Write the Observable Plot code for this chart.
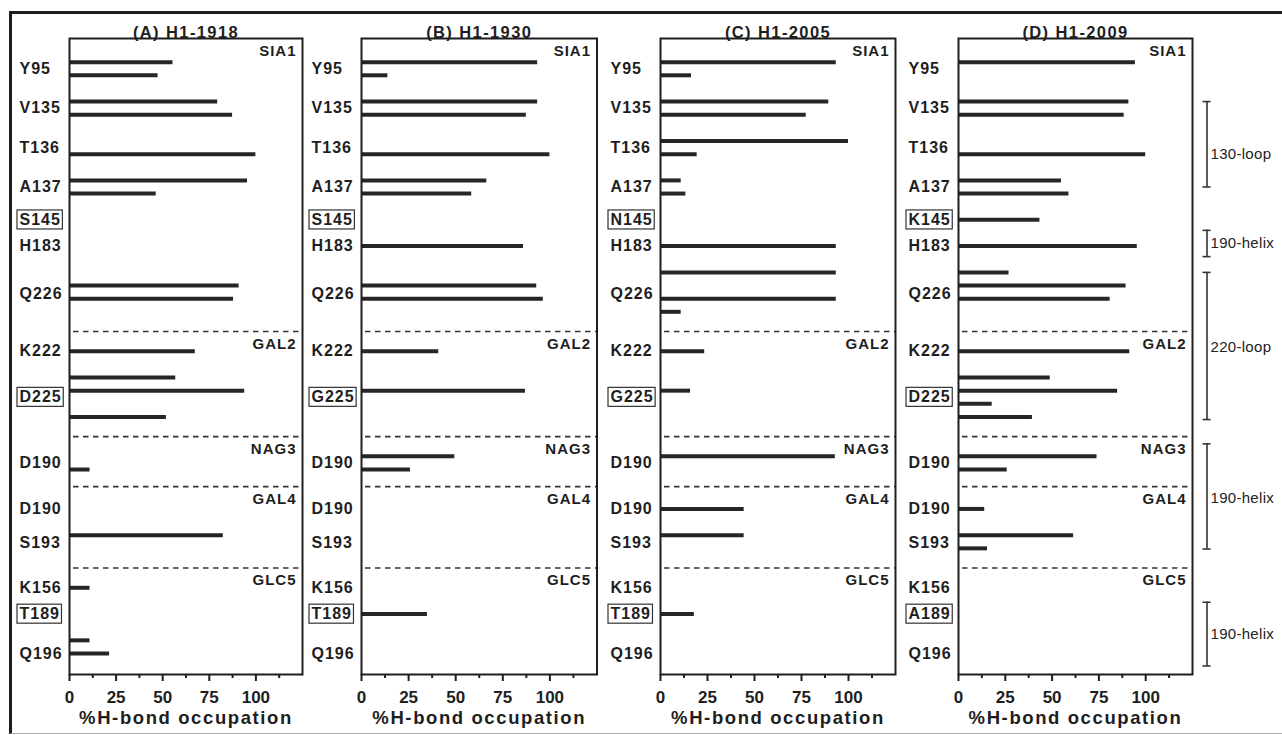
<!DOCTYPE html>
<html><head><meta charset="utf-8">
<script src="https://cdn.jsdelivr.net/npm/d3@7"></script>
<script src="https://cdn.jsdelivr.net/npm/@observablehq/plot@0.6"></script>
<style>
html,body{margin:0;padding:0;background:#fff;}
#chart{position:relative;width:1282px;height:735px;overflow:hidden;background:#fff;}
#border{position:absolute;left:8.5px;top:10.5px;width:1300px;height:723.5px;border-left:3px solid #1e1e1e;border-top:3.5px solid #1e1e1e;border-bottom:1px solid #aaa;box-sizing:border-box;}
.panel{position:absolute;top:0;}
</style></head><body><div id="chart"><div id="border"></div></div>
<script>
// ---------- data ----------
const xDomain = [0, 125];
const yDomain = [0.2, 48.6];           // bar-slot units, top to bottom
const majorTicks = [0, 25, 50, 75, 100];
const minorTicks = [12.5, 37.5, 62.5, 87.5, 112.5];
const xTitle = "%H-bond occupation";

const panelTitles = ["(A) H1-1918", "(B) H1-1930", "(C) H1-2005", "(D) H1-2009"];

const residueSlots = [2.5, 5.5, 8.5, 11.5, 14, 16, 19.6, 24, 27.5, 32.5, 36, 38.6, 42, 44, 47];
const residuesA = ["Y95","V135","T136","A137","S145","H183","Q226","K222","D225","D190","D190","S193","K156","T189","Q196"];
const residuesB = ["Y95","V135","T136","A137","S145","H183","Q226","K222","G225","D190","D190","S193","K156","T189","Q196"];
const residuesC = ["Y95","V135","T136","A137","N145","H183","Q226","K222","G225","D190","D190","S193","K156","T189","Q196"];
const residuesD = ["Y95","V135","T136","A137","K145","H183","Q226","K222","D225","D190","D190","S193","K156","A189","Q196"];
const boxedResidues = [4, 8, 13];

const groupNames = ["SIA1", "GAL2", "NAG3", "GAL4", "GLC5"];
const groupStarts = [0.2, 22.5, 30.5, 34.3, 40.5];

const barSlotsA  = [2, 3, 5, 6, 9, 11, 12, 19, 20, 24, 26, 27, 29, 33, 38, 42, 46, 47];
const barValuesA = [55.5, 47.5, 79.5, 87.5, 100, 95.5, 46.5, 91, 88, 67.5, 57, 94, 52, 11, 82.5, 11, 11, 21.5];

const barSlotsB  = [2, 3, 5, 6, 9, 11, 12, 16, 19, 20, 24, 27, 32, 33, 44];
const barValuesB = [93.5, 14, 93.5, 87.5, 100, 66.5, 58.5, 86, 93, 96.5, 41, 87, 49.5, 26, 35];

const barSlotsC  = [2, 3, 5, 6, 8, 9, 11, 12, 16, 18, 20, 21, 24, 27, 32, 36, 38, 44];
const barValuesC = [93.5, 16.5, 89.5, 77.5, 100, 19.5, 11, 13.5, 93.5, 93.5, 93.5, 11, 23.5, 16, 93, 44.5, 44.5, 18];

const barSlotsD  = [2, 5, 6, 9, 11, 12, 14, 16, 18, 19, 20, 24, 26, 27, 28, 29, 32, 33, 36, 38, 39];
const barValuesD = [94.5, 91, 88.5, 100, 55, 59, 43.5, 95.5, 27, 89.5, 81, 91.5, 49, 85, 18, 39.5, 74, 26, 14, 61.5, 15.5];

const regionNames = ["130-loop", "190-helix", "220-loop", "190-helix", "190-helix"];
const regionStart = [5.0, 14.8, 18.0, 31.05, 43.1];
const regionEnd   = [11.5, 16.8, 29.2, 39.05, 47.95];
const regionLabelSlot = [9.0, 15.8, 23.7, 35.2, 45.5];

// ---------- layout ----------
const frameLeft  = [69, 361, 660, 958.3];
const frameWidth = [233, 235.5, 235, 234];
const marginLeft = 60, marginTop = 38, marginBottom = 61, H = 735;
const ink = "#1e1e1e";

const panels = [
  {res: residuesA, slots: barSlotsA, vals: barValuesA},
  {res: residuesB, slots: barSlotsB, vals: barValuesB},
  {res: residuesC, slots: barSlotsC, vals: barValuesC},
  {res: residuesD, slots: barSlotsD, vals: barValuesD}
];

const chart = document.getElementById("chart");
const groups = groupNames.map((name, j) => ({name, start: groupStarts[j]}));
const regions = regionNames.map((name, j) => ({name, start: regionStart[j], end: regionEnd[j], label: regionLabelSlot[j]}));
const regionSet = new Set(regionNames);

panels.forEach((p, i) => {
  const bars = p.slots.map((s, j) => ({slot: s, value: p.vals[j]}));
  const labels = p.res.map((r, j) => ({label: r, slot: residueSlots[j]}));
  const isLast = i === 3;
  const marginRight = isLast ? 88 : 2;
  const marks = [
    Plot.ruleY(groups.slice(1), {y: "start", x1: () => xDomain[0], x2: () => xDomain[1], stroke: "#333", strokeWidth: 1.6, strokeDasharray: "5.5,4.5", insetLeft: 4}),
    Plot.ruleY(bars, {y: "slot", x1: () => 0, x2: "value", stroke: "#262626", strokeWidth: 4}),
    Plot.frame({stroke: ink, strokeWidth: 2}),
    Plot.text(groups, {y: "start", x: () => xDomain[1], text: "name", textAnchor: "end", dx: -6, dy: 12.5, fontSize: 15, fill: ink}),
    Plot.text(labels, {y: "slot", x: () => xDomain[0], text: "label", textAnchor: "start", dx: -50, fontSize: 16, fill: ink}),
    Plot.axisX({ticks: majorTicks, tickSize: 7, tickPadding: 9, fontSize: 17, strokeWidth: 2, stroke: ink, fill: ink, label: null}),
    Plot.axisX({ticks: minorTicks, tickSize: 4, tickFormat: () => "", strokeWidth: 2, stroke: ink, label: null}),
    Plot.text([panelTitles[i]], {text: d => d, frameAnchor: "top", dy: -12, fontSize: 16.5, fill: ink}),
    Plot.text([xTitle], {text: d => d, frameAnchor: "bottom", dy: 49, fontSize: 18.5, fill: ink})
  ];
  if (isLast) {
    marks.push(
      Plot.ruleX(regions, {x: () => xDomain[1], y1: "start", y2: "end", dx: 14.5, stroke: "#333", strokeWidth: 1.6}),
      Plot.ruleY(regions, {y: "start", x1: () => xDomain[1], x2: () => xDomain[1], dx: 14.5, insetLeft: -4, insetRight: -4, stroke: "#333", strokeWidth: 1.6}),
      Plot.ruleY(regions, {y: "end", x1: () => xDomain[1], x2: () => xDomain[1], dx: 14.5, insetLeft: -4, insetRight: -4, stroke: "#333", strokeWidth: 1.6}),
      Plot.text(regions, {y: "label", x: () => xDomain[1], text: "name", textAnchor: "start", dx: 18, fontSize: 15, fontWeight: "normal", fill: "#222"})
    );
  }
  const svg = Plot.plot({
    width: marginLeft + frameWidth[i] + marginRight,
    height: H,
    marginLeft, marginRight, marginTop, marginBottom,
    x: {domain: xDomain, axis: null},
    y: {domain: yDomain, reverse: true, axis: null},
    style: {background: "none", maxWidth: "none", overflow: "visible", fontFamily: "'Liberation Sans', Arial, sans-serif", fontWeight: "bold", letterSpacing: "1px", color: ink},
    marks
  });
  svg.classList.add("panel");
  svg.style.left = (frameLeft[i] - marginLeft) + "px";
  chart.appendChild(svg);

  const boxed = new Set(boxedResidues.map(k => p.res[k]));
  d3.select(svg).selectAll("text").each(function() {
    const t = this.textContent;
    if (t === xTitle) this.style.letterSpacing = "1.6px";
    else if (t === panelTitles[i]) this.style.letterSpacing = "1.4px";
    else if (regionSet.has(t)) this.style.letterSpacing = "0.3px";
    else if (/^\d+$/.test(t)) this.style.letterSpacing = "0px";
  });
  d3.select(svg).selectAll("text").filter(function() { return boxed.has(this.textContent); }).each(function() {
    const b = this.getBBox();
    const r = document.createElementNS("http://www.w3.org/2000/svg", "rect");
    r.setAttribute("x", b.x - 2.5);
    r.setAttribute("y", b.y - 1);
    r.setAttribute("width", b.width + 4);
    r.setAttribute("height", b.height + 2);
    r.setAttribute("fill", "none");
    r.setAttribute("stroke", "#333");
    r.setAttribute("stroke-width", "1.2");
    const tr = this.getAttribute("transform");
    if (tr) r.setAttribute("transform", tr);
    this.parentNode.insertBefore(r, this);
  });
});
</script>
</body></html>
